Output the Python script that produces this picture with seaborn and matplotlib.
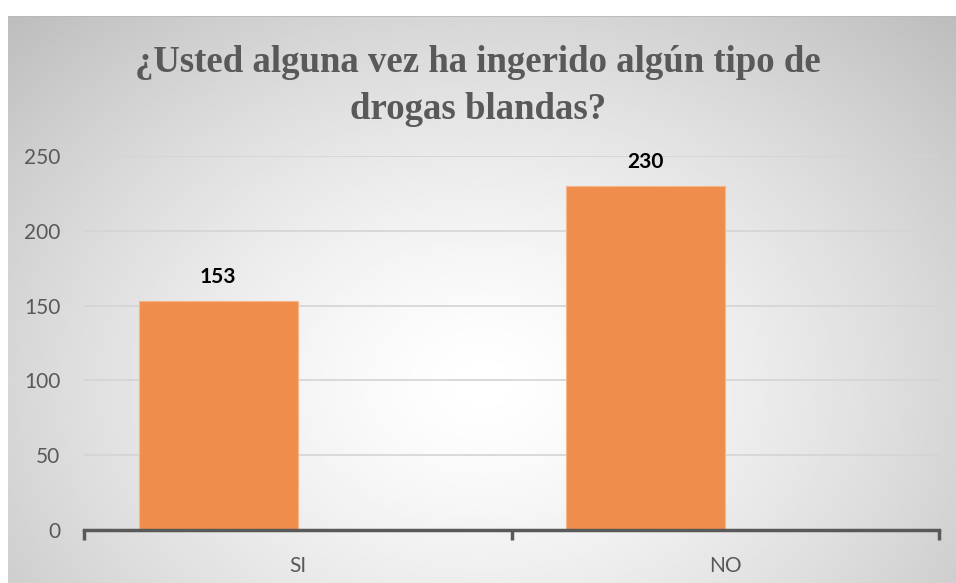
import numpy as np
import pandas as pd
import matplotlib.pyplot as plt
import seaborn as sns

sns.set_theme(style="white")
plt.rcParams["font.family"] = ["Lato", "DejaVu Sans"]

# Data
categorias = ["SI", "NO"]
valores = [153, 230]
series = ["Serie 1", "Serie 1"]
titulo = "¿Usted alguna vez ha ingerido algún tipo de\ndrogas blandas?"

df = pd.DataFrame({"respuesta": categorias, "cantidad": valores, "serie": series})

W, H = 956, 583
fig = plt.figure(figsize=(W / 100, H / 100), dpi=100)
fig.patch.set_facecolor("white")

# Radial gradient chart background
bg = fig.add_axes([8 / W, 0, 1 - 8 / W, (H - 16) / H])
gx, gy = np.meshgrid(np.linspace(-1, 1, 400), np.linspace(-1, 1, 250))
cy = 0.3
d = np.sqrt(gx ** 2 + ((gy - cy) / (1 + abs(cy))) ** 2) / np.sqrt(2)
shade = 1 - 0.26 * np.clip(d, 0, 1) ** 1.4
bg.imshow(shade, cmap="gray", vmin=0, vmax=1, aspect="auto",
          extent=[0, 1, 0, 1], origin="upper", interpolation="bilinear")
bg.set_xlim(0, 1)
bg.set_ylim(0, 1)
bg.axis("off")
bg.axhline(1, color="#b8b8b8", lw=1.2)

ax = fig.add_axes([84 / W, 1 - 530 / H, (939 - 84) / W, (530 - 156) / H])
ax.set_facecolor("none")
ax.set_zorder(2)

sns.barplot(data=df, x="respuesta", y="cantidad", hue="serie",
            hue_order=["Serie 1", "Serie 2"],
            palette={"Serie 1": "#EF8E4C", "Serie 2": "#EF8E4C"},
            saturation=1, width=0.744, gap=0, dodge=True, legend=False,
            edgecolor="#F6B48A", linewidth=0.8, ax=ax, zorder=3)

for c in ax.containers:
    ax.bar_label(c, fontsize=15, fontweight="bold", color="black", padding=10)

ax.set_xlim(-0.5, 1.5)
ax.set_ylim(0, 250)
ax.set_yticks(range(0, 251, 50))
ax.yaxis.grid(True, color="#d4d4d4", lw=1.2)
ax.set_axisbelow(True)
ax.tick_params(axis="y", length=0, pad=17, labelsize=15, labelcolor="#595959")

ax.set_xticks([-0.5, 0.5, 1.5])
ax.set_xticklabels(["", "", ""])
ax.set_xticks([0, 1], minor=True)
ax.set_xticklabels(categorias, minor=True)
ax.tick_params(axis="x", which="major", direction="out", length=7, width=2.5,
               color="#595959", bottom=True)
ax.tick_params(axis="x", which="minor", length=0, pad=19, labelsize=15,
               labelcolor="#595959")
ax.set_xlabel("")
ax.set_ylabel("")

for s in ["top", "right", "left"]:
    ax.spines[s].set_visible(False)
ax.spines["bottom"].set_color("#595959")
ax.spines["bottom"].set_linewidth(2.5)
ax.spines["bottom"].set_zorder(4)

fig.text(478 / W, 1 - 86 / H, titulo, ha="center", va="center",
         fontsize=26.5, fontweight="bold", color="#595959",
         family=["Liberation Serif", "DejaVu Serif"], linespacing=1.45)

fig.savefig("out.png", dpi=100)
